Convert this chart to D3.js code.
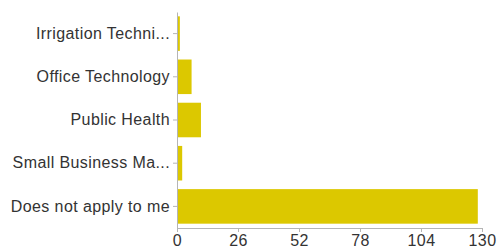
<!DOCTYPE html>
<html>
<head>
<meta charset="utf-8">
<script src="https://cdn.jsdelivr.net/npm/d3@7"></script>
<style>
  body { margin: 0; background: #fff; }
  svg { display: block; font-family: "Liberation Sans", Arial, Helvetica, sans-serif; }
  .axis path, .axis line { stroke: #b5b5b5; }
  .axis text { fill: #333; font-size: 16px; letter-spacing: 0.4px; }
</style>
</head>
<body>
<svg></svg>
<script>
const categories = ['Irrigation Techni...', 'Office Technology', 'Public Health', 'Small Business Ma...', 'Does not apply to me'];
const counts = [1, 6, 10, 2, 128];
const tickValues = [0, 26, 52, 78, 104, 130];

const margin = {top: 12, bottom: 22, left: 177, right: 16};
const width = 498 - margin.left - margin.right;
const height = 250 - margin.top - margin.bottom;

const scaleX = d3.scaleLinear()
	.domain([0, 130])
	.range([0, width]);

const scaleY = d3.scaleBand()
	.domain(categories)
	.range([0, height])
	.paddingInner(0.2)
	.paddingOuter(0.1);

const $svg = d3.select('svg')
	.attr('width', 498)
	.attr('height', 250);

const $vis = $svg.append('g')
	.attr('transform', 'translate(' + margin.left + ',' + margin.top + ')');

$vis.selectAll('.bar')
	.data(counts)
	.enter()
	.append('rect')
	.attr('class', 'bar')
	.attr('x', scaleX(0) + 0.5)
	.attr('y', (d, i) => scaleY(categories[i]))
	.attr('width', d => scaleX(d) - scaleX(0))
	.attr('height', scaleY.bandwidth())
	.style('fill', '#dcc800');

$vis.append('g')
	.attr('class', 'axis axis--x')
	.attr('transform', 'translate(0,' + height + ')')
	.call(d3.axisBottom(scaleX).tickValues(tickValues).tickSize(4).tickSizeOuter(4).tickPadding(3));

$vis.append('g')
	.attr('class', 'axis axis--y')
	.call(d3.axisLeft(scaleY).tickSize(4).tickSizeOuter(0).tickPadding(3));
</script>
</body>
</html>
